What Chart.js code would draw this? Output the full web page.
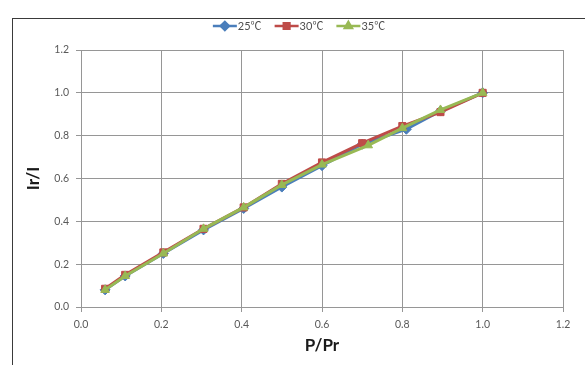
<!DOCTYPE html>
<html>
<head>
<meta charset="utf-8">
<script src="https://cdn.jsdelivr.net/npm/chart.js@4/dist/chart.umd.min.js"></script>
<style>
  html, body { margin: 0; padding: 0; background: #fff; }
  #wrap { width: 585px; height: 365px; position: relative; }
</style>
</head>
<body>
<div id="wrap"><canvas id="chart" width="585" height="365"></canvas></div>
<script>
// valores
const seriesNames = ['25℃', '30℃', '35℃'];
const x25 = [0.06, 0.11, 0.205, 0.305, 0.405, 0.50, 0.60, 0.70, 0.81, 0.895, 1.0];
const y25 = [0.08, 0.145, 0.25, 0.36, 0.46, 0.56, 0.66, 0.76, 0.83, 0.915, 1.0];
const x30 = [0.06, 0.11, 0.205, 0.305, 0.405, 0.50, 0.60, 0.70, 0.80, 0.895, 1.0];
const y30 = [0.085, 0.15, 0.255, 0.365, 0.465, 0.575, 0.675, 0.765, 0.845, 0.91, 1.0];
const x35 = [0.06, 0.11, 0.205, 0.305, 0.405, 0.50, 0.60, 0.715, 0.80, 0.895, 1.0];
const y35 = [0.08, 0.145, 0.25, 0.365, 0.465, 0.57, 0.665, 0.755, 0.835, 0.92, 1.0];
const axisTicks = [0, 0.2, 0.4, 0.6, 0.8, 1.0, 1.2];

const colors = {
    blue: '#4a7ebb',
    red: '#be4b48',
    green: '#98b954',
    grid: '#969696',
    text: '#595959'
};

function toPoints(xs, ys) {
    return xs.map((x, i) => ({ x: x, y: ys[i] }));
}

const styles = [
    { color: colors.blue, marker: 'rectRot', order: 2 },
    { color: colors.red, marker: 'rect', order: 1 },
    { color: colors.green, marker: 'triangle', order: 0 }
];
const pointSets = [toPoints(x25, y25), toPoints(x30, y30), toPoints(x35, y35)];

const datasets = seriesNames.map((name, i) => ({
    label: name,
    data: pointSets[i],
    showLine: true,
    borderColor: styles[i].color,
    backgroundColor: styles[i].color,
    borderWidth: 3,
    pointStyle: styles[i].marker,
    pointRadius: 5,
    pointBorderWidth: 1,
    pointBackgroundColor: styles[i].color,
    pointBorderColor: styles[i].color,
    order: styles[i].order
}));

// marco exterior y leyenda estilo Excel
const framePlugin = {
    id: 'frame',
    beforeDraw(chart) {
        const ctx = chart.ctx;
        ctx.save();
        ctx.fillStyle = '#fff';
        ctx.fillRect(0, 0, chart.width, chart.height);
        ctx.strokeStyle = '#3a3a3a';
        ctx.lineWidth = 1;
        ctx.strokeRect(12.5, 18.5, 700, 500);
        ctx.restore();
    },
    afterDraw(chart) {
        const ctx = chart.ctx;
        ctx.save();
        ctx.font = '11px Lato, "Noto Sans CJK SC", sans-serif';
        ctx.textBaseline = 'middle';
        const lineLen = 24, gap = 1, itemGap = 13, y = 26;
        const widths = seriesNames.map(n => ctx.measureText(n).width);
        const total = widths.reduce((a, w) => a + lineLen + gap + w, 0) + itemGap * (seriesNames.length - 1);
        let x = 299 - total / 2;
        seriesNames.forEach((name, i) => {
            const c = styles[i].color;
            ctx.strokeStyle = c;
            ctx.lineWidth = 2.5;
            ctx.beginPath();
            ctx.moveTo(x, y);
            ctx.lineTo(x + lineLen, y);
            ctx.stroke();
            ctx.fillStyle = c;
            Chart.helpers.drawPoint(ctx, { pointStyle: styles[i].marker, radius: 4, borderWidth: 1 }, x + lineLen / 2, y);
            ctx.fill();
            ctx.fillStyle = '#4d4d4d';
            ctx.fillText(name, x + lineLen + gap, y);
            x += lineLen + gap + widths[i] + itemGap;
        });
        ctx.restore();
    }
};

const tickFont = { family: 'Lato, "Noto Sans", sans-serif', size: 10.5 };
const titleFont = { family: 'Lato, "Noto Sans", sans-serif', size: 17, weight: 'bold' };

new Chart(document.getElementById('chart').getContext('2d'), {
    type: 'scatter',
    data: { datasets: datasets },
    options: {
        responsive: false,
        animation: false,
        layout: { padding: { top: 50, right: 22, left: 0, bottom: 0 } },
        plugins: {
            legend: { display: false },
            tooltip: { enabled: false }
        },
        scales: {
            x: {
                type: 'linear',
                min: 0,
                max: 1.2,
                afterFit(scale) { scale.height = 58; },
                afterBuildTicks(scale) { scale.ticks = axisTicks.map(v => ({ value: v })); },
                ticks: {
                    color: colors.text,
                    font: tickFont,
                    padding: 6,
                    maxRotation: 0,
                    callback: v => v.toFixed(1)
                },
                grid: { color: colors.grid, lineWidth: 1, tickLength: 5 },
                border: { color: colors.grid, width: 1 },
                title: {
                    display: true,
                    text: 'P/Pr',
                    color: '#1a1a1a',
                    font: titleFont,
                    padding: { top: 0, bottom: 9 }
                }
            },
            y: {
                type: 'linear',
                min: 0,
                max: 1.2,
                afterFit(scale) { scale.width = 81; },
                afterBuildTicks(scale) { scale.ticks = axisTicks.map(v => ({ value: v })); },
                ticks: {
                    color: colors.text,
                    font: tickFont,
                    padding: 7,
                    callback: v => v.toFixed(1)
                },
                grid: { color: colors.grid, lineWidth: 1, tickLength: 5 },
                border: { color: colors.grid, width: 1 },
                title: {
                    display: true,
                    text: 'Ir/I',
                    color: '#1a1a1a',
                    font: titleFont,
                    padding: { top: 23, bottom: 0 }
                }
            }
        }
    },
    plugins: [framePlugin]
});
</script>
</body>
</html>
